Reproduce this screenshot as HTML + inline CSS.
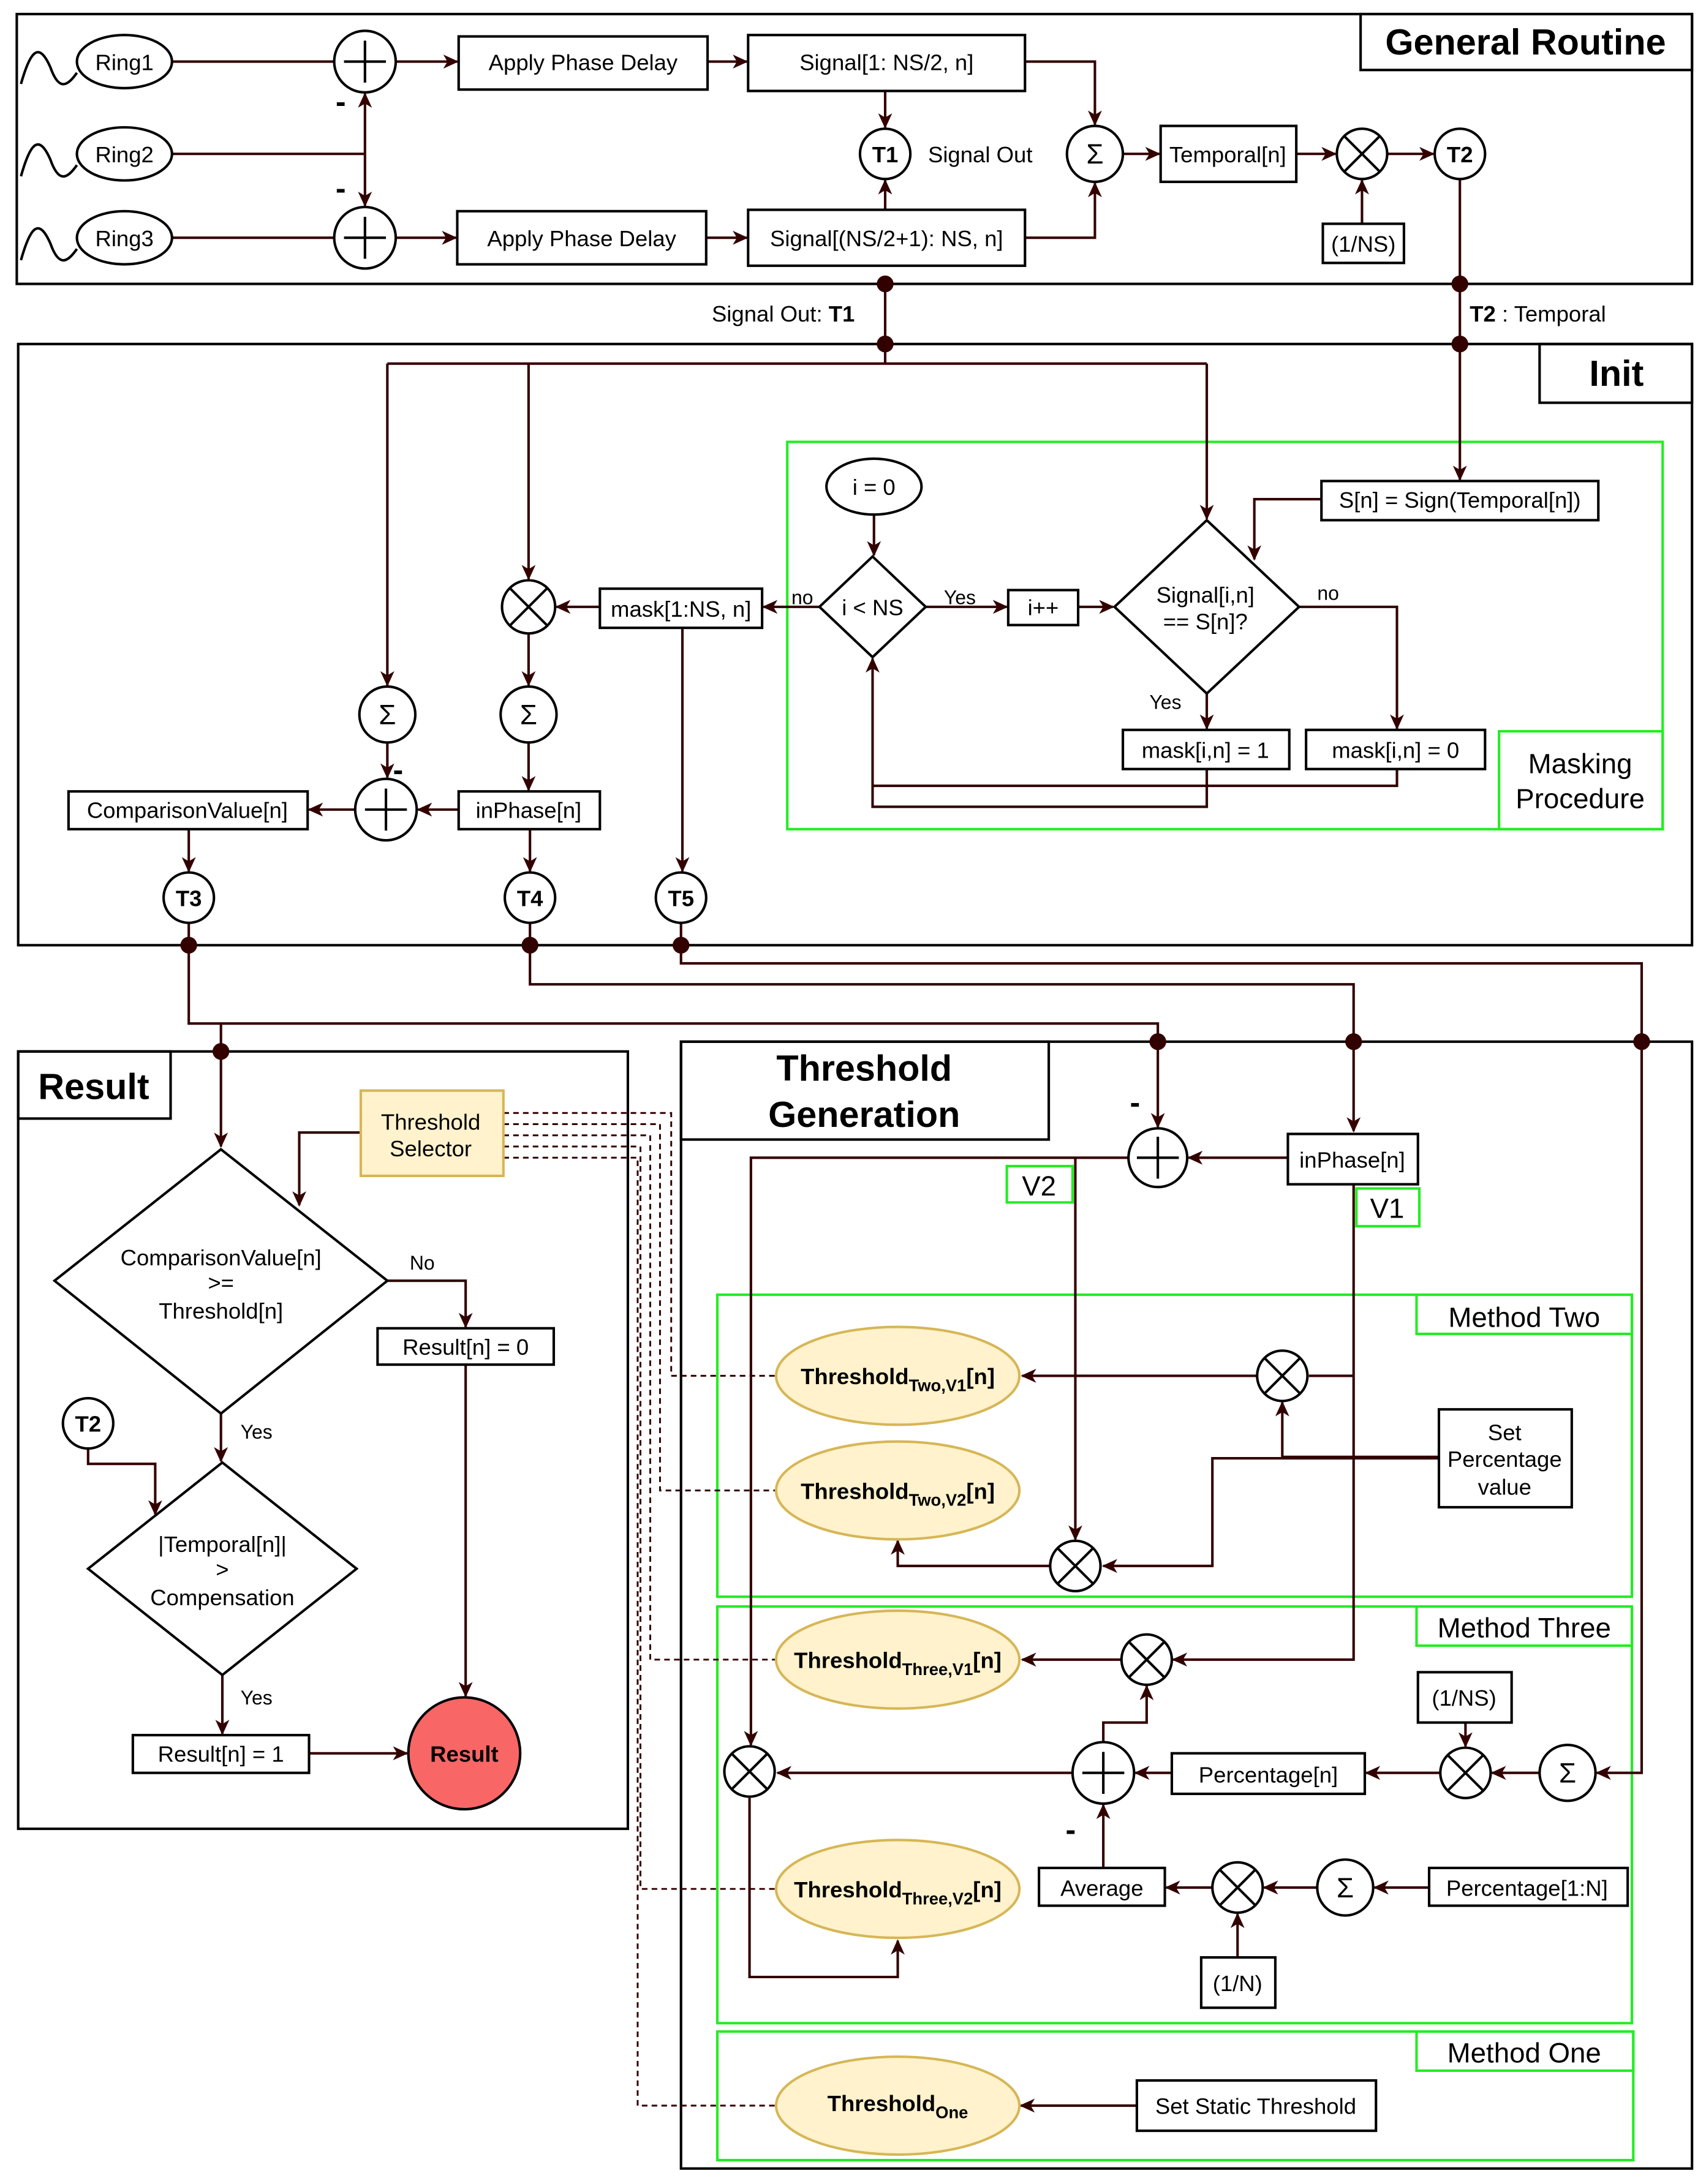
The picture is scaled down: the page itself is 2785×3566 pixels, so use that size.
<!DOCTYPE html>
<html><head><meta charset="utf-8"><style>
html,body{margin:0;padding:0;background:#fff;}
svg{display:block;}
text{font-family:"Liberation Sans",sans-serif;fill:#000;}
</style></head><body>
<svg width="2785" height="3566" viewBox="0 0 1220 1562" xmlns="http://www.w3.org/2000/svg">
<defs>
<marker id="a" markerWidth="12" markerHeight="12" refX="10" refY="6" orient="auto" markerUnits="userSpaceOnUse">
<path d="M0,1 L11,6 L0,11 L3,6 Z" fill="#330000"/>
</marker>
</defs>
<g fill="none" stroke="#000" stroke-width="1.8">
<!-- main boxes -->
<rect x="12" y="10" width="1198" height="193"/>
<rect x="973" y="10" width="237" height="40"/>
<rect x="13" y="246" width="1197" height="430"/>
<rect x="1101" y="246" width="109" height="42"/>
<rect x="13" y="752" width="436" height="556"/>
<rect x="13" y="752" width="109" height="48"/>
<rect x="487" y="745" width="723" height="806"/>
<rect x="487" y="745" width="263" height="70"/>
</g>
<!-- green boxes -->
<g fill="none" stroke="#22ee22" stroke-width="1.8">
<rect x="563" y="316" width="626" height="277"/>
<rect x="1072" y="523" width="117" height="70"/>
<rect x="720" y="834" width="47" height="26"/>
<rect x="970" y="850" width="45" height="27"/>
<rect x="513" y="926" width="654" height="216"/>
<rect x="1013" y="926" width="154" height="28"/>
<rect x="513" y="1149" width="654" height="298"/>
<rect x="1013" y="1149" width="154" height="28"/>
<rect x="513" y="1453" width="655" height="92"/>
<rect x="1013" y="1453" width="155" height="28"/>
</g>
<!-- connectors -->
<g fill="none" stroke="#330000" stroke-width="1.8">
<path d="M123,44 H239"/>
<path d="M123,110 H261"/>
<path d="M261,110 V67" marker-end="url(#a)"/>
<path d="M261,110 V147" marker-end="url(#a)"/>
<path d="M123,170 H239"/>
<path d="M283,44 H327" marker-end="url(#a)"/>
<path d="M283,170 H326" marker-end="url(#a)"/>
<path d="M506,44 H534" marker-end="url(#a)"/>
<path d="M505,170 H534" marker-end="url(#a)"/>
<path d="M633,65 V91" marker-end="url(#a)"/>
<path d="M633,150 V129" marker-end="url(#a)"/>
<path d="M733,44 H783 V89" marker-end="url(#a)"/>
<path d="M733,170 H783 V131" marker-end="url(#a)"/>
<path d="M803,110 H829" marker-end="url(#a)"/>
<path d="M927,110 H955" marker-end="url(#a)"/>
<path d="M974,160 V129" marker-end="url(#a)"/>
<path d="M992,110 H1025" marker-end="url(#a)"/>
<path d="M1044,128 V343" marker-end="url(#a)"/>
<path d="M633,203 V260"/>
<path d="M277,260 H863"/>
<path d="M277,260 V490" marker-end="url(#a)"/>
<path d="M378,260 V414" marker-end="url(#a)"/>
<path d="M863,260 V371" marker-end="url(#a)"/>
<path d="M945,357 H897 V400" marker-end="url(#a)"/>
<path d="M625,368 V397" marker-end="url(#a)"/>
<path d="M662,434 H720" marker-end="url(#a)"/>
<path d="M771,434 H796" marker-end="url(#a)"/>
<path d="M929,434 H999 V521" marker-end="url(#a)"/>
<path d="M863,496 V521" marker-end="url(#a)"/>
<path d="M863,550 V577 H624 V471" marker-end="url(#a)"/>
<path d="M999,550 V562 H624"/>
<path d="M586,434 H546" marker-end="url(#a)"/>
<path d="M429,434 H398" marker-end="url(#a)"/>
<path d="M488,449 V623" marker-end="url(#a)"/>
<path d="M378,453 V490" marker-end="url(#a)"/>
<path d="M378,531 V565" marker-end="url(#a)"/>
<path d="M328,579 H299" marker-end="url(#a)"/>
<path d="M277,531 V556" marker-end="url(#a)"/>
<path d="M254,579 H221" marker-end="url(#a)"/>
<path d="M135,593 V623" marker-end="url(#a)"/>
<path d="M379,593 V623" marker-end="url(#a)"/>
<path d="M135,660 V732 H828 V806" marker-end="url(#a)"/>
<path d="M379,660 V704 H968 V809" marker-end="url(#a)"/>
<path d="M487,660 V689 H1174 V1268 H1142" marker-end="url(#a)"/>
<path d="M158,732 V820" marker-end="url(#a)"/>
<path d="M258,810 H214 V862" marker-end="url(#a)"/>
<path d="M277,916 H333 V949" marker-end="url(#a)"/>
<path d="M333,976 V1213" marker-end="url(#a)"/>
<path d="M158,1011 V1045" marker-end="url(#a)"/>
<path d="M63,1036 V1047 H111 V1083" marker-end="url(#a)"/>
<path d="M159,1198 V1240" marker-end="url(#a)"/>
<path d="M221,1254 H291" marker-end="url(#a)"/>
<path d="M921,828 H850" marker-end="url(#a)"/>
<path d="M807,828 H537 V1248" marker-end="url(#a)"/>
<path d="M769,828 V1101" marker-end="url(#a)"/>
<path d="M968,847 V1187 H839" marker-end="url(#a)"/>
<path d="M968,984 H936"/>
<path d="M899,984 H731" marker-end="url(#a)"/>
<path d="M1029,1042 H917 V1003" marker-end="url(#a)"/>
<path d="M1029,1043 H867 V1120 H789" marker-end="url(#a)"/>
<path d="M751,1120 H642 V1102" marker-end="url(#a)"/>
<path d="M802,1187 H731" marker-end="url(#a)"/>
<path d="M1048,1232 V1249" marker-end="url(#a)"/>
<path d="M1101,1268 H1067" marker-end="url(#a)"/>
<path d="M1030,1268 H977" marker-end="url(#a)"/>
<path d="M838,1268 H812" marker-end="url(#a)"/>
<path d="M789,1246 V1232 H820 V1206" marker-end="url(#a)"/>
<path d="M767,1268 H556" marker-end="url(#a)"/>
<path d="M536,1286 V1414 H642 V1388" marker-end="url(#a)"/>
<path d="M789,1336 V1291" marker-end="url(#a)"/>
<path d="M867,1350 H834" marker-end="url(#a)"/>
<path d="M942,1350 H904" marker-end="url(#a)"/>
<path d="M1022,1350 H983" marker-end="url(#a)"/>
<path d="M885,1400 V1369" marker-end="url(#a)"/>
<path d="M813,1506 H730" marker-end="url(#a)"/>
</g>
<!-- dashed -->
<g fill="none" stroke="#330000" stroke-width="1.3" stroke-dasharray="4,3">
<path d="M360,796 H480 V984 H555"/>
<path d="M360,804 H472 V1066 H555"/>
<path d="M360,812 H465 V1187 H555"/>
<path d="M360,820 H458 V1351 H555"/>
<path d="M360,828 H456 V1506 H555"/>
</g>
<!-- dots -->
<g fill="#330000">
<circle cx="633" cy="203" r="6"/><circle cx="633" cy="246" r="6"/>
<circle cx="1044" cy="203" r="6"/><circle cx="1044" cy="246" r="6"/>
<circle cx="135" cy="676" r="6"/><circle cx="379" cy="676" r="6"/><circle cx="487" cy="676" r="6"/>
<circle cx="158" cy="752" r="6"/><circle cx="828" cy="745" r="6"/><circle cx="968" cy="745" r="6"/><circle cx="1174" cy="745" r="6"/>
</g>
<!-- shapes -->
<g fill="#fff" stroke="#000" stroke-width="1.8">
<path d="M15,60 C22,35 28,30 36,48 C42,65 48,62 55,52" fill="none"/>
<path d="M15,126 C22,101 28,96 36,114 C42,131 48,128 55,118" fill="none"/>
<path d="M15,186 C22,161 28,156 36,174 C42,191 48,188 55,178" fill="none"/>
<ellipse cx="89" cy="44" rx="34" ry="19"/>
<ellipse cx="89" cy="110" rx="34" ry="19"/>
<ellipse cx="89" cy="170" rx="34" ry="19"/>
<circle cx="261" cy="44" r="22"/><circle cx="261" cy="170" r="22"/>
<rect x="328" y="26" width="178" height="38"/>
<rect x="327" y="151" width="178" height="38"/>
<rect x="535" y="25" width="198" height="40"/>
<rect x="535" y="150" width="198" height="40"/>
<circle cx="633" cy="110" r="18"/>
<circle cx="783" cy="110" r="20"/>
<rect x="830" y="90" width="97" height="40"/>
<circle cx="974" cy="110" r="18"/>
<rect x="946" y="160" width="58" height="28"/>
<circle cx="1044" cy="110" r="18"/>
<rect x="945" y="344" width="198" height="28"/>
<ellipse cx="625" cy="348" rx="34" ry="20"/>
<path d="M624,398 L662,434 L624,470 L586,434 Z"/>
<rect x="721" y="422" width="50" height="25"/>
<path d="M863,372 L929,434 L863,496 L797,434 Z"/>
<rect x="803" y="522" width="119" height="28"/>
<rect x="934" y="522" width="128" height="28"/>
<rect x="429" y="421" width="116" height="28"/>
<circle cx="378" cy="434" r="19"/>
<circle cx="378" cy="511" r="20"/>
<circle cx="277" cy="511" r="20"/>
<rect x="328" y="566" width="101" height="27"/>
<circle cx="276" cy="579" r="22"/>
<rect x="49" y="566" width="171" height="27"/>
<circle cx="135" cy="642" r="18"/><circle cx="379" cy="642" r="18"/><circle cx="487" cy="642" r="18"/>
<rect x="258" y="780" width="102" height="61" fill="#fff2cc" stroke="#d6b656"/>
<path d="M158,822 L277,916 L158,1011 L39,916 Z"/>
<rect x="270" y="950" width="126" height="26"/>
<circle cx="63" cy="1018" r="18"/>
<path d="M159,1046 L255,1122 L159,1198 L63,1122 Z"/>
<rect x="95" y="1241" width="126" height="27"/>
<circle cx="332" cy="1254" r="40" fill="#f86666"/>
<circle cx="828" cy="828" r="21"/>
<rect x="921" y="811" width="93" height="36"/>
<ellipse cx="642" cy="984" rx="87" ry="35" fill="#fff2cc" stroke="#d6b656"/>
<ellipse cx="642" cy="1066" rx="87" ry="35" fill="#fff2cc" stroke="#d6b656"/>
<ellipse cx="642" cy="1187" rx="87" ry="35" fill="#fff2cc" stroke="#d6b656"/>
<ellipse cx="642" cy="1351" rx="87" ry="35" fill="#fff2cc" stroke="#d6b656"/>
<ellipse cx="642" cy="1506" rx="87" ry="35" fill="#fff2cc" stroke="#d6b656"/>
<circle cx="917" cy="984" r="18"/>
<rect x="1029" y="1008" width="95" height="70"/>
<circle cx="769" cy="1120" r="18"/>
<circle cx="820" cy="1187" r="18"/>
<rect x="1014" y="1196" width="67" height="36"/>
<circle cx="1048" cy="1268" r="18"/>
<circle cx="1121" cy="1268" r="20"/>
<rect x="838" y="1254" width="138" height="29"/>
<circle cx="789" cy="1268" r="22"/>
<circle cx="536" cy="1267" r="18"/>
<rect x="743" y="1336" width="90" height="27"/>
<circle cx="885" cy="1350" r="18"/>
<circle cx="962" cy="1350" r="20"/>
<rect x="1022" y="1336" width="142" height="27"/>
<rect x="859" y="1400" width="53" height="36"/>
<rect x="813" y="1488" width="171" height="36"/>
</g>
<!-- plus & times marks -->
<g stroke="#000" stroke-width="1.8" fill="none">
<path d="M261,29 V59 M246,44 H276"/><path d="M261,155 V185 M246,170 H276"/>
<path d="M276,564 V594 M261,579 H291"/>
<path d="M828,813 V843 M813,828 H843"/>
<path d="M789,1253 V1283 M774,1268 H804"/>
<path d="M961,97 L987,123 M987,97 L961,123"/>
<path d="M365,421 L391,447 M391,421 L365,447"/>
<path d="M904,971 L930,997 M930,971 L904,997"/>
<path d="M756,1107 L782,1133 M782,1107 L756,1133"/>
<path d="M807,1174 L833,1200 M833,1174 L807,1200"/>
<path d="M1035,1255 L1061,1281 M1061,1255 L1035,1281"/>
<path d="M523,1254 L549,1280 M549,1254 L523,1280"/>
<path d="M872,1337 L898,1363 M898,1337 L872,1363"/>
</g>
<!-- text -->
<g font-size="16" text-anchor="middle">
<text x="89" y="50">Ring1</text><text x="89" y="116">Ring2</text><text x="89" y="176">Ring3</text>
<text x="417" y="50">Apply Phase Delay</text><text x="416" y="176">Apply Phase Delay</text>
<text x="634" y="50">Signal[1: NS/2, n]</text><text x="634" y="176">Signal[(NS/2+1): NS, n]</text>
<text x="633" y="116" font-weight="bold">T1</text><text x="1044" y="116" font-weight="bold">T2</text>
<text x="701" y="116">Signal Out</text>
<text x="783" y="117" font-size="20">Σ</text>
<text x="878" y="116">Temporal[n]</text>
<text x="975" y="180">(1/NS)</text>
<text x="1044" y="363">S[n] = Sign(Temporal[n])</text>
<text x="625" y="354">i = 0</text>
<text x="624" y="440">i &lt; NS</text>
<text x="746" y="440">i++</text>
<text x="862" y="431">Signal[i,n]</text><text x="862" y="450">== S[n]?</text>
<text x="862" y="542">mask[i,n] = 1</text><text x="998" y="542">mask[i,n] = 0</text>
<text x="487" y="441">mask[1:NS, n]</text>
<text x="378" y="585">inPhase[n]</text>
<text x="134" y="585">ComparisonValue[n]</text>
<text x="378" y="518" font-size="20">Σ</text><text x="277" y="518" font-size="20">Σ</text>
<text x="135" y="648" font-weight="bold">T3</text><text x="379" y="648" font-weight="bold">T4</text><text x="487" y="648" font-weight="bold">T5</text>
<text x="1130" y="553" font-size="20">Masking</text><text x="1130" y="578" font-size="20">Procedure</text>
<text x="308" y="808">Threshold</text><text x="308" y="827">Selector</text>
<text x="158" y="905">ComparisonValue[n]</text><text x="158" y="923">&gt;=</text><text x="158" y="943">Threshold[n]</text>
<text x="333" y="969">Result[n] = 0</text>
<text x="63" y="1024" font-weight="bold">T2</text>
<text x="159" y="1110">|Temporal[n]|</text><text x="159" y="1128">&gt;</text><text x="159" y="1148">Compensation</text>
<text x="158" y="1260">Result[n] = 1</text>
<text x="332" y="1260" font-weight="bold">Result</text>
<text x="967" y="835">inPhase[n]</text>
<text x="743" y="855" font-size="20">V2</text><text x="992" y="871" font-size="20">V1</text>
<text x="1076" y="1030">Set</text><text x="1076" y="1049">Percentage</text><text x="1076" y="1069">value</text>
<text x="1047" y="1220">(1/NS)</text>
<text x="907" y="1275">Percentage[n]</text>
<text x="1121" y="1275" font-size="20">Σ</text>
<text x="788" y="1356">Average</text>
<text x="962" y="1357" font-size="20">Σ</text>
<text x="1092" y="1356">Percentage[1:N]</text>
<text x="885" y="1424">(1/N)</text>
<text x="898" y="1512">Set Static Threshold</text>
<text x="1090" y="949" font-size="20">Method Two</text>
<text x="1090" y="1171" font-size="20">Method Three</text>
<text x="1090" y="1475" font-size="20">Method One</text>
<text x="1091" y="39" font-size="26" font-weight="bold">General Routine</text>
<text x="1156" y="276" font-size="26" font-weight="bold">Init</text>
<text x="67" y="786" font-size="26" font-weight="bold">Result</text>
<text x="618" y="773" font-size="26" font-weight="bold">Threshold</text>
<text x="618" y="806" font-size="26" font-weight="bold">Generation</text>
</g>
<g font-size="14">
<text x="675" y="432">Yes</text><text x="566" y="432">no</text><text x="942" y="429">no</text>
<text x="822" y="507">Yes</text>
<text x="293" y="908">No</text><text x="172" y="1029">Yes</text><text x="172" y="1219">Yes</text>
</g>
<g font-size="16">
<text x="509" y="230">Signal Out:  <tspan font-weight="bold">T1</tspan></text>
<text x="1051" y="230"><tspan font-weight="bold">T2</tspan> : Temporal</text>
</g>
<g font-size="22" font-weight="bold">
<text x="240" y="80">-</text><text x="240" y="142">-</text><text x="281" y="558">-</text>
<text x="808" y="796">-</text><text x="762" y="1316">-</text>
</g>
<g font-size="16" font-weight="bold" text-anchor="middle">
<text x="642" y="990">Threshold<tspan font-size="12" dy="5">Two,V1</tspan><tspan dy="-5">[n]</tspan></text>
<text x="642" y="1072">Threshold<tspan font-size="12" dy="5">Two,V2</tspan><tspan dy="-5">[n]</tspan></text>
<text x="642" y="1193">Threshold<tspan font-size="12" dy="5">Three,V1</tspan><tspan dy="-5">[n]</tspan></text>
<text x="642" y="1357">Threshold<tspan font-size="12" dy="5">Three,V2</tspan><tspan dy="-5">[n]</tspan></text>
<text x="642" y="1510">Threshold<tspan font-size="12" dy="5">One</tspan></text>
</g>
</svg>
</body></html>
